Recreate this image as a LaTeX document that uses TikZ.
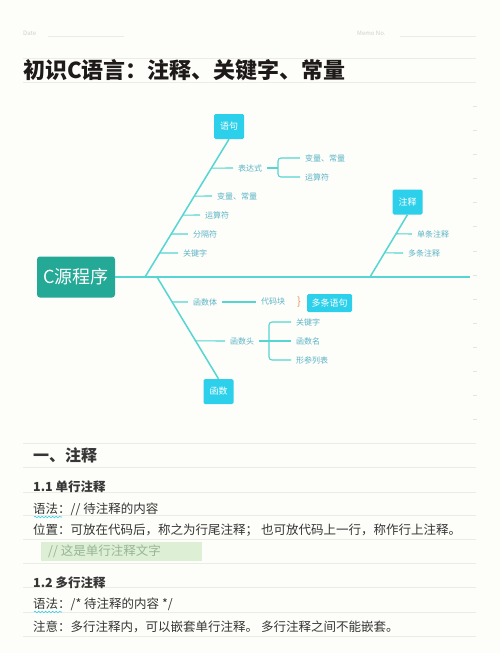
\documentclass[tikz,border=0pt]{standalone}
\usepackage{fontspec}
\setmainfont{Noto Sans CJK SC}
\usetikzlibrary{calc,decorations.pathmorphing}
\definecolor{bg}{HTML}{FDFDF9}
\definecolor{rulec}{HTML}{ECECE6}
\definecolor{tickc}{HTML}{E4E4E0}
\definecolor{spine}{HTML}{55D6D2}
\definecolor{cyanbox}{HTML}{2DD0EA}
\definecolor{tealbox}{HTML}{23A995}
\definecolor{lblc}{HTML}{5BB4C6}
\definecolor{brc}{HTML}{E39A6A}
\definecolor{ink}{HTML}{363636}
\definecolor{titlec}{HTML}{1E1A1A}
\definecolor{faint}{HTML}{CFCFCB}
\definecolor{hl}{HTML}{DDEFD5}
\definecolor{hltext}{HTML}{98B596}
\begin{document}
\begin{tikzpicture}[x=1pt,y=-1pt,
  fz/.style={font=\fontsize{#1}{#1}\selectfont},
  rulel/.style={draw=rulec, line width=0.7pt},
  rootbox/.style={fill=tealbox, text=white, rounded corners=3pt, minimum width=78pt, minimum height=41pt, inner sep=0pt, fz=18},
  catbox/.style={fill=cyanbox, text=white, rounded corners=1.5pt, minimum width=30pt, minimum height=25pt, inner sep=0pt, fz=9},
  lab/.style={text=lblc, fz=8, anchor=west, inner xsep=5pt, inner ysep=1pt},
  spinel/.style={draw=spine, line width=1.5pt},
  twig/.style={draw=spine, line width=1.1pt},
  body/.style={text=ink, fz=12.5, anchor=west, inner sep=0pt},
  bodyb/.style={text=ink, font=\fontsize{12.5}{14}\selectfont\bfseries, anchor=west, inner sep=0pt},
  wavy/.style={draw=cyanbox, line width=0.6pt, decorate, decoration={snake, amplitude=0.8pt, segment length=3.5pt}}
]
\useasboundingbox (0,0) rectangle (500,653);
\fill[bg] (0,0) rectangle (500,653);

% ruled lines
\foreach \yy in {58,82,443,467,492,515,539,563,587,612,636}
  \draw[rulel] (23,\yy) -- (476,\yy);
\foreach \yy in {106,130,154,178,202,226,251,275,299,323,347,371,395,419}
  \draw[draw=tickc, line width=0.5pt] (473,\yy) -- (477,\yy);

% header
\node[fz=6, text=faint, anchor=west, inner sep=0pt] (date) at (23,33) {Date};
\draw[rulel] (48,36) -- (124,36);
\node[fz=6, text=faint, anchor=west, inner sep=0pt] (memo) at (357,33) {Memo No.};
\draw[rulel] (400,36) -- (476,36);

\node[anchor=west, inner sep=0pt, text=titlec, font=\fontsize{22}{24}\selectfont\bfseries] (title) at (23,70) {初识C语言：注释、关键字、常量};

% fishbone diagram
\node[rootbox] (root) at (76,277) {C源程序};
\coordinate (send) at (470,277);
\coordinate (s1) at (145,277);
\coordinate (s2) at (370,277);
\coordinate (s3) at (157,277);
\draw[spinel] (root.east) -- (send);

\node[catbox] (yj) at (229,126.5) {语句};
\node[catbox] (zs) at (407.5,202) {注释};
\node[catbox] (hs) at (218.5,391.5) {函数};
\draw[spinel] (s1) -- (yj.south);
\draw[spinel] (s2) -- (zs.south);
\draw[spinel] (s3) -- (hs.north);

% 语句 branch
\coordinate (b1) at ($(s1)!0.790!(yj.south)$);
\coordinate (b2) at ($(s1)!0.587!(yj.south)$);
\coordinate (b3) at ($(s1)!0.449!(yj.south)$);
\coordinate (b4) at ($(s1)!0.312!(yj.south)$);
\coordinate (b5) at ($(s1)!0.174!(yj.south)$);
\node[lab] (bds) at (233,168) {表达式};
\node[lab] (blcl) at (212,196) {变量、常量};
\node[lab] (ysf) at (200,215) {运算符};
\node[lab] (fgf) at (188,234) {分隔符};
\node[lab] (gjz) at (178,253) {关键字};
\draw[twig] (b1) -- (bds.west);
\draw[twig] (b2) -- (blcl.west);
\draw[twig] (b3) -- (ysf.west);
\draw[twig] (b4) -- (fgf.west);
\draw[twig] (b5) -- (gjz.west);

\coordinate (j1) at (278,168);
\node[lab] (cl1) at (300,158) {变量、常量};
\node[lab] (cl2) at (300,177) {运算符};
\draw[twig] (bds.east) -- (j1);
\draw[twig, rounded corners=3pt] (cl1.west) -| (j1) |- (cl2.west);

% 注释 branch
\coordinate (b6) at ($(s2)!0.694!(zs.south)$);
\coordinate (b7) at ($(s2)!0.387!(zs.south)$);
\node[lab] (dtzs) at (412,234) {单条注释};
\node[lab] (duozs) at (403,253) {多条注释};
\draw[twig] (b6) -- (dtzs.west);
\draw[twig] (b7) -- (duozs.west);

% 函数 branch
\coordinate (b8) at ($(s3)!0.245!(hs.north)$);
\coordinate (b9) at ($(s3)!0.627!(hs.north)$);
\node[lab] (hst) at (188,302) {函数体};
\node[lab] (dmk) at (256,302) {代码块};
\draw[twig] (b8) -- (hst.west);
\draw[twig] (hst.east) -- (dmk.west);
\node[text=brc, fz=11, inner sep=0pt] (brace) at (299,302) {\}};
\node[catbox, minimum width=45pt, minimum height=18pt] (dtyj) at (329.5,303) {多条语句};

\node[lab] (hstou) at (225,341) {函数头};
\draw[twig] (b9) -- (hstou.west);
\coordinate (j2) at (269,341);
\node[lab] (k2) at (291,322) {关键字};
\node[lab] (hm) at (291,341) {函数名};
\node[lab] (xc) at (291,360) {形参列表};
\draw[twig] (hstou.east) -- (hm.west);
\draw[twig, rounded corners=3pt] (k2.west) -| (j2) |- (xc.west);

% text section
\node[anchor=west, inner sep=0pt, text=ink, font=\fontsize{16}{18}\selectfont\bfseries] (h1) at (33,455) {一、注释};
\node[bodyb] (h11) at (33,487) {1.1 单行注释};
\node[body] (syn1) at (33,509) {语法：// 待注释的内容};
\draw[wavy] (34,517) -- (62,517);
\node[body] (pos) at (33,530.5) {位置：可放在代码后，称之为行尾注释； 也可放代码上一行，称作行上注释。};
\node[fill=hl, minimum width=161pt, minimum height=19pt, inner sep=0pt] (hlbox) at (121.5,551.5) {};
\node[body, text=hltext] (cmt) at (48,551) {// 这是单行注释文字};
\node[bodyb] (h12) at (33,583) {1.2 多行注释};
\node[body] (syn2) at (33,604) {语法：/* 待注释的内容 */};
\draw[wavy] (34,612) -- (62,612);
\node[body] (note) at (33,627) {注意：多行注释内，可以嵌套单行注释。 多行注释之间不能嵌套。};
\end{tikzpicture}
\end{document}
